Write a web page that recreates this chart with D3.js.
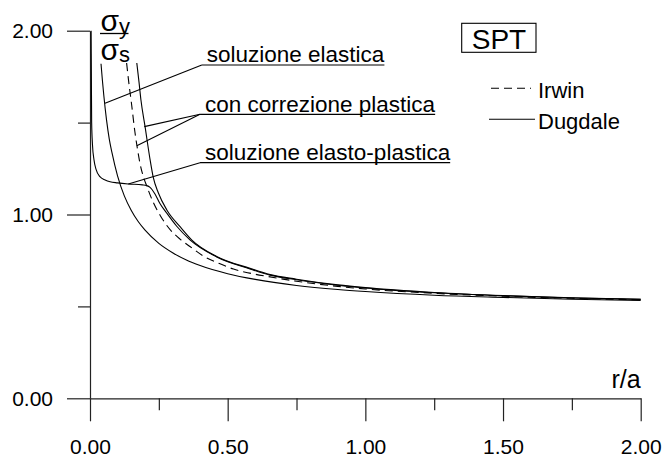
<!DOCTYPE html>
<html>
<head>
<meta charset="utf-8">
<script src="https://cdn.jsdelivr.net/npm/d3@7"></script>
<style>
  html, body { margin: 0; padding: 0; background: #fff; }
  svg { display: block; }
</style>
</head>
<body>
<div id="chart"></div>
<script>
// sigma_y / sigma_s in funzione di r/a

// soluzione elastica (Dugdale)
const elastica = [
  [0.040, 1.82], [0.045, 1.73], [0.050, 1.65], [0.060, 1.515], [0.070, 1.41],
  [0.080, 1.335], [0.100, 1.21], [0.125, 1.10], [0.150, 1.022], [0.175, 0.962],
  [0.200, 0.915], [0.250, 0.843], [0.300, 0.792], [0.350, 0.752], [0.400, 0.722],
  [0.500, 0.678], [0.600, 0.647], [0.750, 0.614], [0.900, 0.592], [1.000, 0.581],
  [1.250, 0.561], [1.500, 0.549], [1.750, 0.539], [2.000, 0.532]
];

// con correzione plastica - Irwin (tratteggiata)
const irwinCorr = [
  [0.133, 1.824], [0.140, 1.73], [0.151, 1.60], [0.163, 1.45], [0.172, 1.36],
  [0.182, 1.275], [0.195, 1.20], [0.206, 1.155], [0.230, 1.065], [0.255, 0.995],
  [0.279, 0.940], [0.327, 0.866], [0.363, 0.826], [0.412, 0.774], [0.470, 0.733],
  [0.521, 0.703], [0.580, 0.681], [0.648, 0.662], [0.750, 0.637], [0.900, 0.609],
  [1.000, 0.595], [1.250, 0.571], [1.500, 0.555], [1.750, 0.544], [2.000, 0.536]
];

// con correzione plastica - Dugdale
const dugdaleCorr = [
  [0.170, 1.824], [0.178, 1.72], [0.185, 1.623], [0.200, 1.478], [0.218, 1.30],
  [0.230, 1.20], [0.248, 1.118], [0.279, 1.025], [0.327, 0.934], [0.370, 0.861],
  [0.460, 0.772], [0.581, 0.707], [0.654, 0.673], [0.750, 0.648], [0.900, 0.617],
  [1.000, 0.602], [1.250, 0.576], [1.500, 0.559], [1.750, 0.547], [2.000, 0.539]
];

// soluzione elasto-plastica
const elastoPlastica = [
  [0.004, 2.0], [0.005, 1.75], [0.006, 1.50], [0.009, 1.38], [0.0145, 1.297],
  [0.022, 1.245], [0.036, 1.206], [0.055, 1.188], [0.073, 1.178], [0.100, 1.172],
  [0.139, 1.166], [0.190, 1.161], [0.206, 1.157], [0.218, 1.148], [0.236, 1.112],
  [0.254, 1.060], [0.279, 1.007], [0.315, 0.936], [0.363, 0.862], [0.460, 0.769],
  [0.581, 0.704], [0.654, 0.670], [0.750, 0.645], [0.900, 0.615], [1.000, 0.600],
  [1.250, 0.574], [1.500, 0.558], [1.750, 0.546], [2.000, 0.538]
];

const xMajor = [0, 0.5, 1, 1.5, 2];
const xMinor = [0.25, 0.75, 1.25, 1.75];
const yMajor = [0, 1, 2];
const yMinor = [0.5, 1.5];

// richiami: testo, punto di attacco (r/a, sy/ss), punti indicati
const richiami = [
  { testo: "soluzione elastica", da: [0.406, 1.813], a: [[0.0545, 1.605]] },
  { testo: "con correzione plastica", da: [0.3996, 1.545], a: [[0.197, 1.478], [0.170, 1.374]] },
  { testo: "soluzione elasto-plastica", da: [0.3996, 1.282], a: [[0.139, 1.166]] }
];

const legenda = [
  { nome: "Irwin", dash: "8,5" },
  { nome: "Dugdale", dash: null }
];

const width = 665, height = 457;
const font = "'Liberation Sans', Arial, Helvetica, sans-serif";

const svg = d3.select("#chart").append("svg")
  .attr("width", width)
  .attr("height", height)
  .style("background", "#fff");

const x = d3.scaleLinear().domain([0, 2]).range([90, 640.7]);
const y = d3.scaleLinear().domain([0, 2]).range([398.3, 30.7]);

const fmt = d3.format(".2f");

// asse y
const gy = svg.append("g").attr("transform", `translate(${x(0)},0)`);
gy.call(d3.axisLeft(y).tickValues(yMajor).tickSize(23).tickSizeOuter(0).tickPadding(14).tickFormat(fmt));
gy.append("g").call(d3.axisLeft(y).tickValues(yMinor).tickSize(12).tickSizeOuter(0).tickFormat(""))
  .select(".domain").remove();

// asse x
const gx = svg.append("g").attr("transform", `translate(0,${y(0)})`);
gx.call(d3.axisBottom(x).tickValues(xMajor).tickSize(23).tickSizeOuter(0).tickPadding(18).tickFormat(fmt));
gx.append("g").call(d3.axisBottom(x).tickValues(xMinor).tickSize(12).tickSizeOuter(0).tickFormat(""))
  .select(".domain").remove();

svg.selectAll(".domain, .tick line").attr("stroke", "#222").attr("stroke-width", 1.2);
svg.selectAll(".tick text")
  .attr("fill", "#000")
  .attr("font-size", 21)
  .attr("font-family", font);

// curve
const line = d3.line()
  .x(d => x(d[0]))
  .y(d => y(d[1]))
  .curve(d3.curveMonotoneX);

const curve = [
  { dati: elastica, dash: null },
  { dati: dugdaleCorr, dash: null },
  { dati: elastoPlastica, dash: null },
  { dati: irwinCorr, dash: "8,5" }
];

svg.append("g").selectAll("path")
  .data(curve)
  .join("path")
  .attr("d", d => line(d.dati))
  .attr("fill", "none")
  .attr("stroke", "#000")
  .attr("stroke-width", 1.1)
  .attr("stroke-dasharray", d => d.dash);

// richiami
const gr = svg.append("g");
richiami.forEach(r => {
  const x0 = x(r.da[0]), y0 = y(r.da[1]);
  const t = gr.append("text")
    .attr("x", x0 + 5)
    .attr("y", y0 - 2.8)
    .attr("font-size", 22.5)
    .attr("font-family", font)
    .attr("fill", "#000")
    .text(r.testo);
  const w = t.node().getComputedTextLength();
  gr.append("line")
    .attr("x1", x0).attr("x2", x0 + 5 + w)
    .attr("y1", y0).attr("y2", y0)
    .attr("stroke", "#000").attr("stroke-width", 1.1);
  r.a.forEach(p => {
    gr.append("line")
      .attr("x1", x0).attr("y1", y0)
      .attr("x2", x(p[0])).attr("y2", y(p[1]))
      .attr("stroke", "#000").attr("stroke-width", 1.1);
  });
});

// etichetta asse y: sigma_y / sigma_s
const gl = svg.append("g").attr("font-family", font).attr("fill", "#000");
const num = gl.append("text").attr("x", 100.5).attr("y", 31);
num.append("tspan").attr("font-size", 30).text("σ");
num.append("tspan").attr("font-size", 22).attr("dy", 3).text("y");
gl.append("line")
  .attr("x1", 100).attr("x2", 128.5)
  .attr("y1", 33.5).attr("y2", 33.5)
  .attr("stroke", "#000").attr("stroke-width", 1.3);
const den = gl.append("text").attr("x", 100.5).attr("y", 59.5);
den.append("tspan").attr("font-size", 30).text("σ");
den.append("tspan").attr("font-size", 22).attr("dy", 2).text("s");

// etichetta asse x
svg.append("text")
  .attr("x", x(2))
  .attr("y", 388)
  .attr("text-anchor", "end")
  .attr("font-size", 25)
  .attr("font-family", font)
  .attr("fill", "#000")
  .text("r/a");

// riquadro SPT
svg.append("rect")
  .attr("x", 461.7).attr("y", 23.3)
  .attr("width", 74.3).attr("height", 29)
  .attr("fill", "none").attr("stroke", "#000").attr("stroke-width", 1.1);
svg.append("text")
  .attr("x", 499).attr("y", 49)
  .attr("text-anchor", "middle")
  .attr("font-size", 28)
  .attr("font-family", font)
  .attr("fill", "#000")
  .text("SPT");

// legenda
const gleg = svg.append("g").attr("transform", "translate(489,88.3)");
const voce = gleg.selectAll("g")
  .data(legenda)
  .join("g")
  .attr("transform", (d, i) => `translate(0,${i * 31})`);
voce.append("line")
  .attr("x1", d => d.dash ? 2 : 0)
  .attr("x2", d => d.dash ? 42 : 46)
  .attr("y1", 0).attr("y2", 0)
  .attr("stroke", "#000").attr("stroke-width", 1.1)
  .attr("stroke-dasharray", d => d.dash);
voce.append("text")
  .attr("x", 49)
  .attr("y", 10)
  .attr("font-size", 22)
  .attr("font-family", font)
  .attr("fill", "#000")
  .text(d => d.nome);
</script>
</body>
</html>
